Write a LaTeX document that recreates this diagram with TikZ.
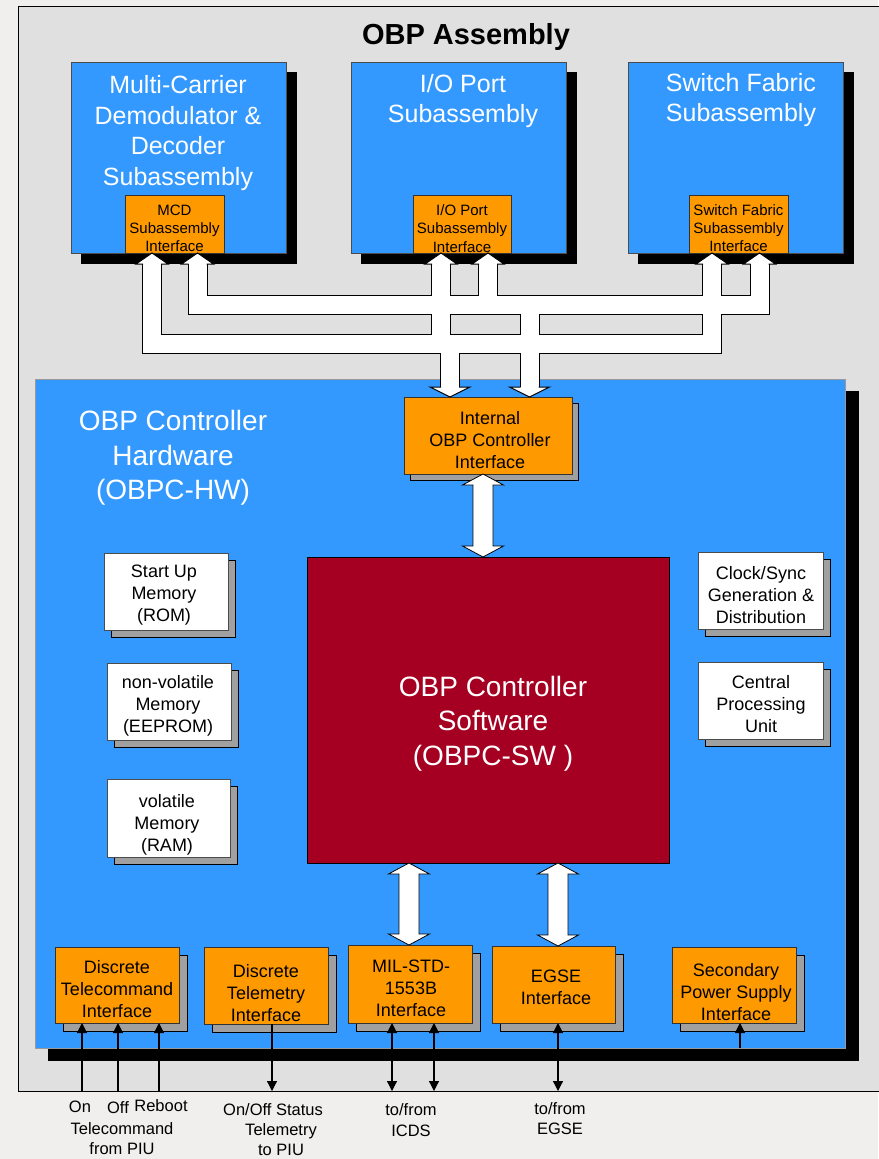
\documentclass[tikz,border=0pt]{standalone}
\usepackage{fontspec}
\setmainfont{Liberation Sans}
\usetikzlibrary{calc,arrows.meta}
\definecolor{pagebg}{HTML}{F0EFED}
\definecolor{asmgray}{HTML}{E0E0E0}
\definecolor{hwblue}{HTML}{3399FF}
\definecolor{ifor}{HTML}{FF9900}
\definecolor{swred}{HTML}{A50021}
\definecolor{shgray}{HTML}{A0A0A0}
\newcommand\fsz[2]{\fontsize{#1}{#2}\selectfont}
\newcommand\bushead[3]{\filldraw[fill=white,draw=black,line width=1pt,line join=miter] ($(#1)+(9,0)$) -- ($(#1)+(#3,0)$) -- (#2) -- ($(#1)+(-#3,0)$) -- ($(#1)+(-9,0)$);}
\begin{document}
\begin{tikzpicture}[x=1pt,y=-1pt,
 every node/.style={inner sep=0pt,outer sep=0pt},
 shad/.style n args={3}{preaction={fill=#1,draw=black,line width=0.6pt,transform canvas={shift={(#2,#3)}}}},
 topbox/.style={draw=black!70,line width=0.6pt,fill=hwblue,shad={black}{10}{10},minimum width=215pt,minimum height=191pt},
 subif/.style={draw=black!80,line width=0.6pt,fill=ifor,minimum height=58pt},
 ifbox/.style={draw=black!80,line width=0.6pt,fill=ifor,shad={shgray}{8}{8}},
 intbox/.style={draw=black!80,line width=0.6pt,fill=ifor,shad={shgray}{6}{6}},
 membox/.style={draw=black!70,line width=0.6pt,fill=white,shad={shgray}{7}{7}},
 wtxt/.style={text=white,align=center},
 btxt/.style={text=black,align=center},
 fTitle/.style={font=\fsz{29}{35}\bfseries},
 fTop/.style={font=\fsz{25}{30.7}},
 fSub/.style={font=\fsz{15}{18.3}},
 fBig/.style={font=\fsz{28}{34.3}},
 fMid/.style={font=\fsz{18}{22}},
 fLab/.style={font=\fsz{16.5}{20.5},align=center},
 tarr/.style={line width=1.2pt,-{Triangle[length=10pt,width=10pt]}},
 tarrb/.style={line width=1.2pt,{Triangle[length=10pt,width=10pt]}-{Triangle[length=10pt,width=10pt]}},
 dbl/.style={draw=black,line width=0.8pt,fill=white,line join=miter,
   to path={(\tikztostart) -- ($(\tikztostart)+(20.5,11)$) -- ($(\tikztostart)+(10,11)$)
     -- ($(\tikztotarget)+(10,-11)$) -- ($(\tikztotarget)+(20.5,-11)$) -- (\tikztotarget)
     -- ($(\tikztotarget)+(-20.5,-11)$) -- ($(\tikztotarget)+(-10,-11)$)
     -- ($(\tikztostart)+(-10,11)$) -- ($(\tikztostart)+(-20.5,11)$) -- cycle}},
]
\useasboundingbox (0,0) rectangle (878,1159);
\fill[pagebg] (0,0) rectangle (878,1159);
% assembly
\node[draw=black,line width=1pt,fill=asmgray,minimum width=864pt,minimum height=1085pt] (asm) at (450,548.5) {};
\node[fTitle] (title) at (466,37) {OBP Assembly};
% top subassemblies
\node[topbox] (mcd) at (178.5,157.5) {};
\node[topbox] (io) at (458.5,157.5) {};
\node[topbox] (sf) at (735.5,157.5) {};
\node[wtxt,fTop] (mcdT) at (178,133) {Multi-Carrier\\Demodulator \&\\Decoder\\Subassembly};
\node[wtxt,fTop] (ioT) at (463,101) {I/O Port\\Subassembly};
\node[wtxt,fTop] (sfT) at (741,100) {Switch Fabric\\Subassembly};
\node[subif,minimum width=99pt] (mcdI) at (174.5,224) {};
\node[subif,minimum width=98pt] (ioI) at (462,224) {};
\node[subif,minimum width=99pt] (sfI) at (738.5,224) {};
\node[btxt,fSub] (mcdIt) at (174.5,228.5) {MCD\\Subassembly\\Interface};
\node[btxt,fSub] (ioIt) at (462,228.5) {I/O Port\\Subassembly\\Interface};
\node[btxt,fSub] (sfIt) at (738.5,228) {Switch Fabric\\Subassembly\\Interface};
% controller hardware
\node[draw=black!40,line width=0.6pt,fill=hwblue,shad={black}{13}{12},minimum width=810pt,minimum height=669pt] (hw) at (440,713.5) {};
\node[wtxt,fBig] (hwT) at (173,458) {OBP Controller\\Hardware\\(OBPC-HW)};
\node[intbox,minimum width=168pt,minimum height=77pt] (intI) at (488,435.5) {};
\node[btxt,fMid] (intIt) at (490,440) {Internal\\OBP Controller\\Interface};
% bus network
\coordinate (t1) at (152,264);
\coordinate (t2) at (197.5,264);
\coordinate (t3) at (441,264);
\coordinate (t4) at (488,264);
\coordinate (t5) at (712,264);
\coordinate (t6) at (759.5,264);
\coordinate (d1) at (450,387);
\coordinate (d2) at (529.5,387);
\coordinate (j2) at (712,344);
\coordinate (j1) at (759.5,305);
\begin{scope}[line cap=butt,line join=miter]
\foreach \c/\w in {black/20pt,white/18pt}{
 \draw[\c,line width=\w] (t1) |- (j2) -- (t5) (t3) -- (t3 |- j2) (d1 |- j2) -- (d1)
   (t2) |- (j1) -- (t6) (t4) -- (t4 |- j1) (d2 |- j1) -- (d2);
}
\end{scope}
\bushead{t1}{t1 |- mcdI.south}{16}
\bushead{t2}{t2 |- mcdI.south}{16}
\bushead{t3}{t3 |- ioI.south}{16}
\bushead{t4}{t4 |- ioI.south}{16}
\bushead{t5}{t5 |- sfI.south}{16}
\bushead{t6}{t6 |- sfI.south}{16}
\bushead{d1}{d1 |- intI.north}{20}
\bushead{d2}{d2 |- intI.north}{20}
% software
\node[draw=black,line width=0.8pt,fill=swred,minimum width=362pt,minimum height=306pt] (sw) at (488,710) {};
\node[wtxt,fBig] (swT) at (493,723.5) {OBP Controller\\Software\\(OBPC-SW )};
% memories and units
\node[membox,minimum width=124pt,minimum height=77pt] (rom) at (166,591.5) {};
\node[btxt,fMid] (romT) at (164,595) {Start Up\\Memory\\(ROM)};
\node[membox,minimum width=124pt,minimum height=77pt] (eep) at (169,701.5) {};
\node[btxt,fMid] (eepT) at (168,706) {non-volatile\\Memory\\(EEPROM)};
\node[membox,minimum width=123pt,minimum height=78pt] (ram) at (168.5,818) {};
\node[btxt,fMid] (ramT) at (167,825) {volatile\\Memory\\(RAM)};
\node[membox,minimum width=125pt,minimum height=77pt] (clk) at (760.5,590.5) {};
\node[btxt,fMid] (clkT) at (761,595) {Clock/Sync\\Generation \&\\Distribution};
\node[membox,minimum width=125pt,minimum height=77pt] (cpu) at (760.5,700.5) {};
\node[btxt,fMid] (cpuT) at (761,704) {Central\\Processing\\Unit};
% bottom interfaces
\node[ifbox,minimum width=124pt,minimum height=76pt] (dtc) at (117,985) {};
\node[btxt,fMid] (dtcT) at (117,989.5) {Discrete\\Telecommand\\Interface};
\node[ifbox,minimum width=124pt,minimum height=77pt] (dtm) at (266,985.5) {};
\node[btxt,fMid] (dtmT) at (266,993) {Discrete\\Telemetry\\Interface};
\node[ifbox,minimum width=124pt,minimum height=78pt] (mil) at (410,984) {};
\node[btxt,fMid] (milT) at (411,988) {MIL-STD-\\1553B\\Interface};
\node[ifbox,minimum width=123pt,minimum height=77pt] (egse) at (553.5,984.5) {};
\node[btxt,fMid] (egseT) at (556,987.5) {EGSE\\Interface};
\node[ifbox,minimum width=124pt,minimum height=76pt] (sps) at (734,985) {};
\node[btxt,fMid] (spsT) at (736,992.5) {Secondary\\Power Supply\\Interface};
% hollow double arrows
\draw[dbl] ([xshift=-5pt]intI.south) to ([xshift=-5pt]sw.north);
\draw[dbl] ([xshift=-79pt]sw.south) to ([xshift=-1pt]mil.north);
\draw[dbl] ([xshift=70pt]sw.south) to ([xshift=4.5pt]egse.north);
% thin signal arrows
\coordinate (xOn) at (82,1091);
\coordinate (xOff) at (118,1091);
\coordinate (xReb) at (159,1091);
\coordinate (xTm) at (272,1091);
\coordinate (xIc1) at (392,1091);
\coordinate (xIc2) at (434,1091);
\coordinate (xEg) at (558,1091);
\coordinate (xPw) at (740,1048);
\draw[tarr] (xOn) -- (xOn |- dtc.south);
\draw[tarr] (xOff) -- (xOff |- dtc.south);
\draw[tarr] (xReb) -- (xReb |- dtc.south);
\draw[tarr] (xTm |- dtm.south) -- (xTm);
\draw[tarrb] (xIc1 |- mil.south) -- (xIc1);
\draw[tarrb] (xIc2 |- mil.south) -- (xIc2);
\draw[tarrb] (xEg |- egse.south) -- (xEg);
\draw[tarr] (xPw) -- (xPw |- sps.south);
% labels
\node[fLab] (lOn) at (80,1107) {On};
\node[fLab] (lOff) at (118,1108) {Off};
\node[fLab] (lReb) at (161,1106) {Reboot};
\node[fLab] (lTc) at (122,1138.5) {Telecommand\\from PIU};
\node[fLab] (lSt) at (273,1110) {On/Off Status};
\node[fLab] (lTm) at (281,1139.5) {Telemetry\\to PIU};
\node[fLab] (lIc) at (411,1120) {to/from\\ICDS};
\node[fLab] (lEg) at (560,1118.5) {to/from\\EGSE};
\end{tikzpicture}
\end{document}
